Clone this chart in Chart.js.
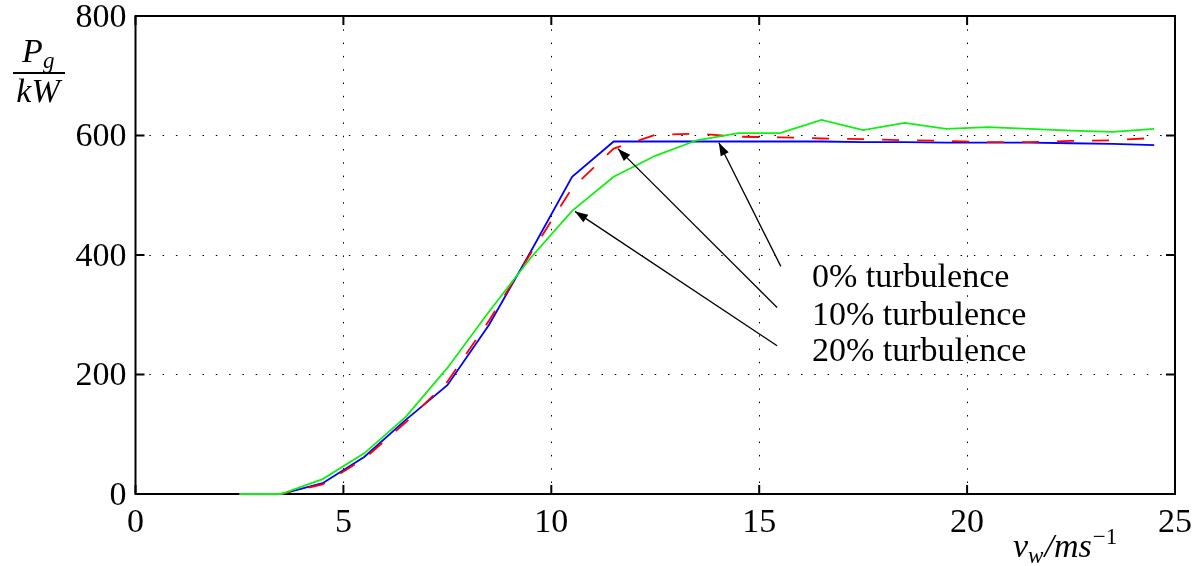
<!DOCTYPE html>
<html>
<head>
<meta charset="utf-8">
<script src="https://cdn.jsdelivr.net/npm/chart.js@4.4.1/dist/chart.umd.min.js"></script>
<style>
  html, body { margin: 0; padding: 0; background: #fff; }
  canvas { display: block; }
</style>
</head>
<body>
<canvas id="powerCurve" width="1202" height="566"></canvas>
<script>
// wind speed bins (m/s) and generated power (kW) for each turbulence level
const windSpeed = [2.5, 3.5, 4.5, 5.5, 6.5, 7.5, 8.5, 9.5, 10.5, 11.5, 12.5, 13.5, 14.5, 15.5, 16.5, 17.5, 18.5, 19.5, 20.5, 21.5, 22.5, 23.5, 24.5];
const power0  = [0, 0, 18, 62, 124, 182, 283, 405, 531, 590, 590, 590, 590, 590, 590, 589, 589, 588, 588, 588, 587, 586, 584];
const power10 = [0, 0, 16, 59, 120, 188, 290, 402, 512, 578, 601, 603, 598, 597, 595, 594, 592, 591, 589, 589, 591, 592, 596];
const power20 = [0, 0, 25, 68, 129, 211, 305, 395, 474, 531, 566, 592, 604, 604, 626, 609, 621, 611, 614, 611, 608, 606, 611];
const turbulenceLabels = ['0% turbulence', '10% turbulence', '20% turbulence'];

const serif = '"Liberation Serif", "Times New Roman", serif';

function toPoints(ys) {
    return windSpeed.map((x, i) => ({ x: x, y: ys[i] }));
}

// text + arrow, positions in data units
const notes = [
    { text: turbulenceLabels[0], tx: 16.27, ty: 346, from: [15.52, 381], to: [14.03, 588] },
    { text: turbulenceLabels[1], tx: 16.27, ty: 283, from: [15.43, 312], to: [11.60, 578] },
    { text: turbulenceLabels[2], tx: 16.27, ty: 223, from: [15.43, 248], to: [10.57, 473] },
];

const framePlugin = {
    id: 'frame',
    beforeDatasetsDraw(chart) {
        const ctx = chart.ctx;
        const a = chart.chartArea;
        const xs = chart.scales.x, ys = chart.scales.y;
        ctx.save();
        ctx.strokeStyle = '#000';
        ctx.lineWidth = 2;
        ctx.strokeRect(a.left, a.top, a.right - a.left, a.bottom - a.top);

        // inward tick marks on all four sides
        const tl = 9;
        ctx.beginPath();
        xs.ticks.forEach(t => {
            const px = xs.getPixelForValue(t.value);
            ctx.moveTo(px, a.bottom); ctx.lineTo(px, a.bottom - tl);
            ctx.moveTo(px, a.top); ctx.lineTo(px, a.top + tl);
        });
        ys.ticks.forEach(t => {
            const py = ys.getPixelForValue(t.value);
            ctx.moveTo(a.left, py); ctx.lineTo(a.left + tl, py);
            ctx.moveTo(a.right, py); ctx.lineTo(a.right - tl, py);
        });
        ctx.stroke();
        ctx.restore();
    },
    afterDatasetsDraw(chart) {
        const ctx = chart.ctx;
        const xs = chart.scales.x, ys = chart.scales.y;
        ctx.save();
        ctx.strokeStyle = '#000';
        ctx.fillStyle = '#000';

        // arrows
        ctx.lineWidth = 1.3;
        notes.forEach(n => {
            const x1 = xs.getPixelForValue(n.from[0]), y1 = ys.getPixelForValue(n.from[1]);
            const x2 = xs.getPixelForValue(n.to[0]), y2 = ys.getPixelForValue(n.to[1]);
            const ang = Math.atan2(y2 - y1, x2 - x1);
            ctx.beginPath();
            ctx.moveTo(x1, y1);
            ctx.lineTo(x2, y2);
            ctx.stroke();
            const len = 13, hw = 4.5;
            ctx.beginPath();
            ctx.moveTo(x2, y2);
            ctx.lineTo(x2 - len * Math.cos(ang) + hw * Math.sin(ang), y2 - len * Math.sin(ang) - hw * Math.cos(ang));
            ctx.lineTo(x2 - len * Math.cos(ang) - hw * Math.sin(ang), y2 - len * Math.sin(ang) + hw * Math.cos(ang));
            ctx.closePath();
            ctx.fill();

            ctx.font = '34px ' + serif;
            ctx.textAlign = 'left';
            ctx.textBaseline = 'alphabetic';
            ctx.fillText(n.text, xs.getPixelForValue(n.tx), ys.getPixelForValue(n.ty));
        });

        // y axis title: P_g over kW
        ctx.textBaseline = 'alphabetic';
        ctx.textAlign = 'left';
        ctx.font = 'italic 34px ' + serif;
        ctx.fillText('P', 22, 62);
        ctx.font = 'italic 23px ' + serif;
        ctx.fillText('g', 43, 68);
        ctx.fillRect(13, 72, 52, 2);
        ctx.font = 'italic 34px ' + serif;
        ctx.textAlign = 'center';
        ctx.fillText('kW', 38, 102);

        // x axis title: v_w / m s^-1
        ctx.textAlign = 'left';
        let x = 1013;
        ctx.font = 'italic 34px ' + serif;
        ctx.fillText('v', x, 557);
        x += ctx.measureText('v').width;
        ctx.font = 'italic 23px ' + serif;
        ctx.fillText('w', x, 563);
        x += ctx.measureText('w').width + 1;
        ctx.font = 'italic 34px ' + serif;
        ctx.fillText('/ms', x, 557);
        x += ctx.measureText('/ms').width + 1;
        ctx.font = '23px ' + serif;
        ctx.fillText('\u22121', x, 544);
        ctx.restore();
    }
};

function gridColor(c) {
    const v = c.tick.value;
    const s = c.scale;
    return (v === s.min || v === s.max) ? 'rgba(0,0,0,0)' : '#000';
}

function drawPowerCurve() {
    const data = {
        datasets: [
            { label: turbulenceLabels[0], data: toPoints(power0), borderColor: '#0000ff', borderWidth: 1.8, order: 2, clip: false },
            { label: turbulenceLabels[1], data: toPoints(power10), borderColor: '#ff0000', borderWidth: 1.8, borderDash: [17, 18], order: 1, clip: false },
            { label: turbulenceLabels[2], data: toPoints(power20), borderColor: '#11ee11', borderWidth: 1.8, order: 0, clip: false },
        ]
    };

    const config = {
        type: 'line',
        data: data,
        options: {
            responsive: false,
            animation: false,
            devicePixelRatio: 1,
            layout: { padding: { left: 0, right: 27, top: 16, bottom: 0 } },
            elements: { point: { radius: 0 }, line: { tension: 0, fill: false } },
            plugins: { legend: { display: false }, tooltip: { enabled: false } },
            scales: {
                x: {
                    type: 'linear', min: 0, max: 25,
                    ticks: { stepSize: 5, padding: 9, color: '#000', font: { family: serif, size: 34 }, maxRotation: 0 },
                    grid: { color: gridColor, lineWidth: 1, drawTicks: false },
                    border: { display: false, dash: [1.5, 11.8] },
                    afterFit(s) { s.height = 72; s.paddingLeft = 0; s.paddingRight = 0; }
                },
                y: {
                    min: 0, max: 800,
                    ticks: { stepSize: 200, padding: 9, labelOffset: 2, color: '#000', font: { family: serif, size: 34 } },
                    grid: { color: gridColor, lineWidth: 1, drawTicks: false },
                    border: { display: false, dash: [1.5, 11.8] },
                    afterFit(s) { s.width = 135.5; s.paddingTop = 0; s.paddingBottom = 0; }
                }
            }
        },
        plugins: [framePlugin]
    };

    new Chart(document.getElementById('powerCurve'), config);
}

drawPowerCurve();
</script>
</body>
</html>
